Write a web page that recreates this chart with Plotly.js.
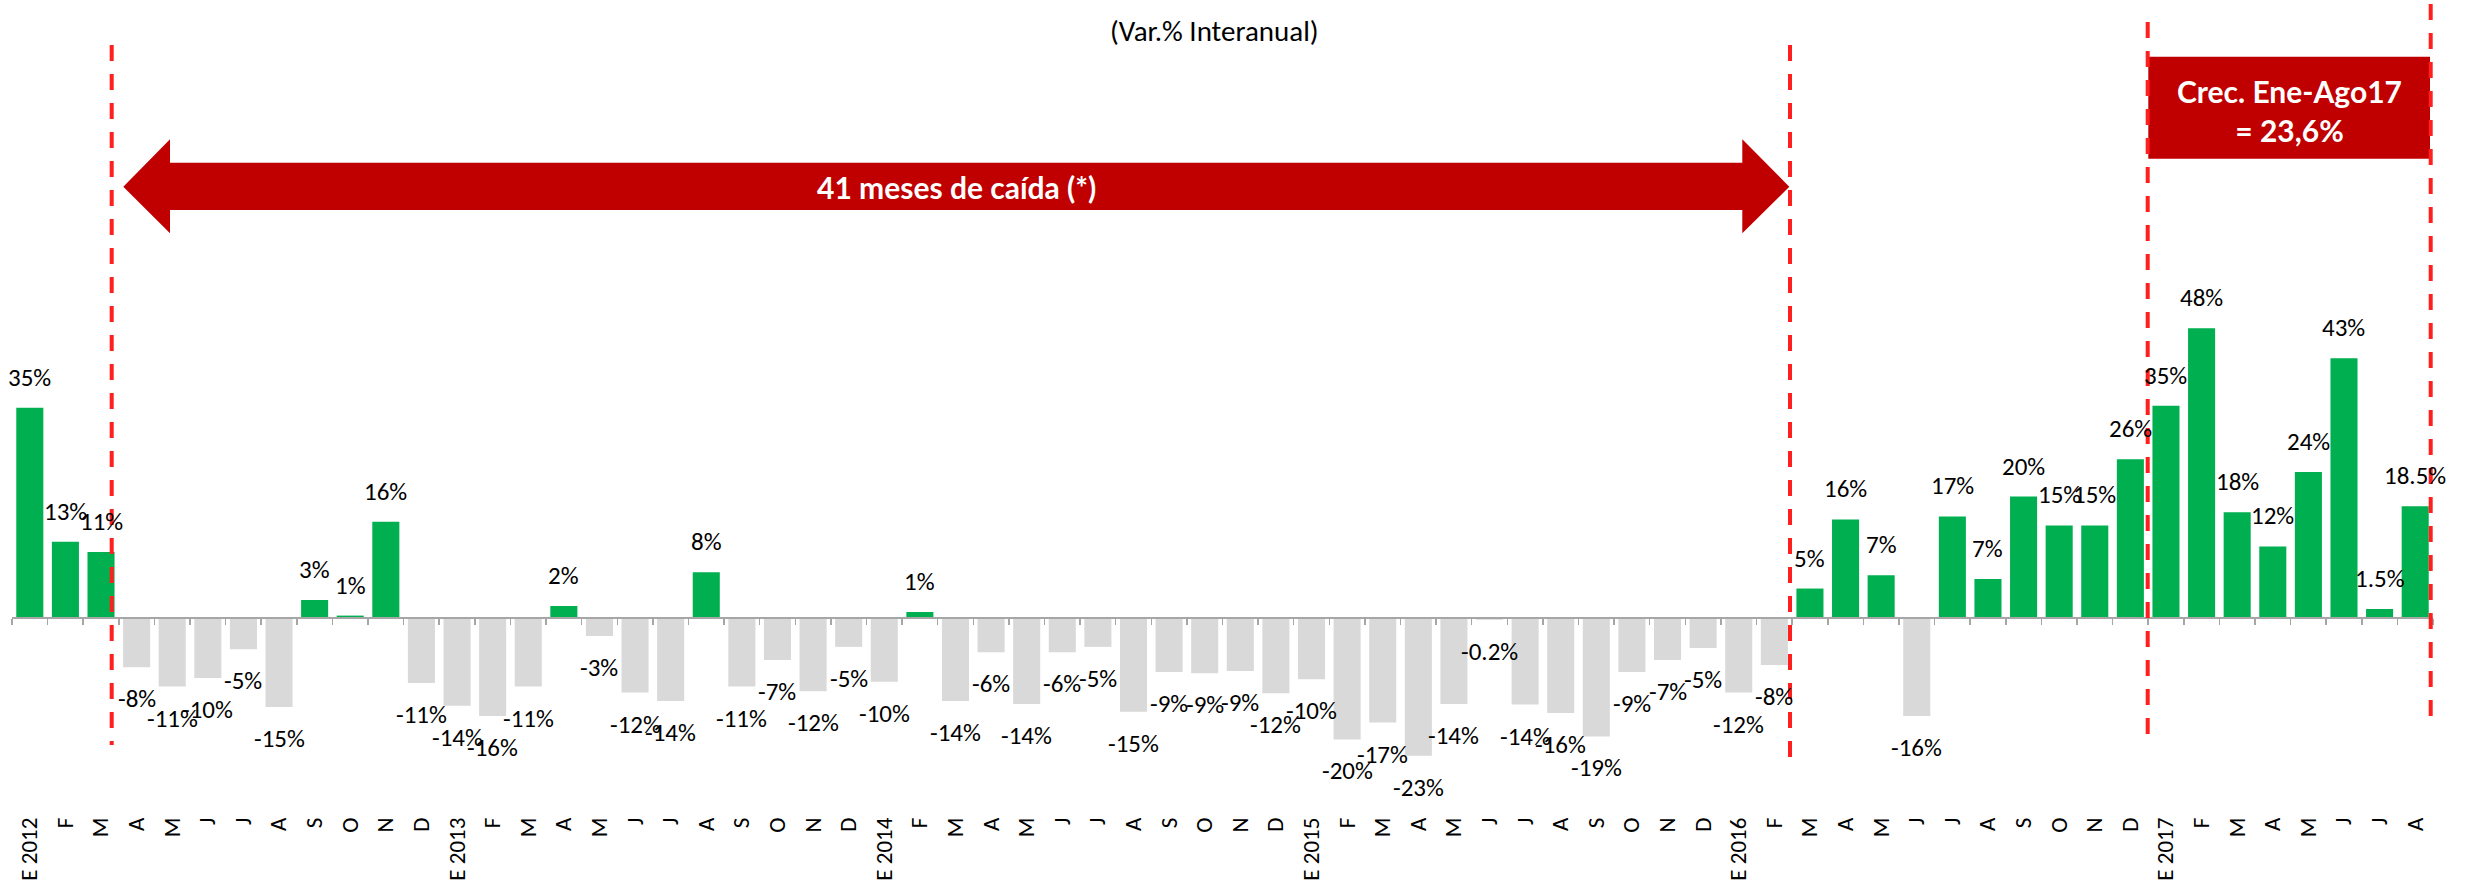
<!DOCTYPE html>
<html>
<head>
<meta charset="utf-8">
<script src="https://cdn.plot.ly/plotly-3.0.1.min.js"></script>
<style>
  html, body { margin: 0; padding: 0; background: #ffffff; }
  #chart { width: 2476px; height: 886px; }
</style>
</head>
<body>
<div id="chart"></div>
<script>
// ---- Data ----
const months = [
  'E 2012','F','M','A','M','J','J','A','S','O','N','D',
  'E 2013','F','M','A','M','J','J','A','S','O','N','D',
  'E 2014','F','M','A','M','J','J','A','S','O','N','D',
  'E 2015','F','M','A','M','J','J','A','S','O','N','D',
  'E 2016','F','M','A','M','J','J','A','S','O','N','D',
  'E 2017','F','M','A','M','J','J','A'
];
const values = [
  35, 12.7, 11, -8.2, -11.4, -10, -5.2, -14.8, 3, 0.4, 16, -10.8,
  -14.6, -16.3, -11.4, 2, -3, -12.4, -13.8, 7.6, -11.4, -7, -12.2, -4.8,
  -10.6, 1, -13.8, -5.7, -14.3, -5.7, -4.8, -15.6, -9, -9.2, -8.8, -12.5,
  -10.2, -20.2, -17.4, -22.9, -14.3, -0.3, -14.4, -15.8, -19.7, -9, -7, -5,
  -12.4, -7.8, 4.9, 16.4, 7.1, -16.3, 16.9, 6.5, 20.2, 15.4, 15.4, 26.4,
  35.3, 48.2, 17.6, 11.9, 24.3, 43.2, 1.5, 18.6
];
const labels = [
  '35%','13%','11%','-8%','-11%','-10%','-5%','-15%','3%','1%','16%','-11%',
  '-14%','-16%','-11%','2%','-3%','-12%','-14%','8%','-11%','-7%','-12%','-5%',
  '-10%','1%','-14%','-6%','-14%','-6%','-5%','-15%','-9%','-9%','-9%','-12%',
  '-10%','-20%','-17%','-23%','-14%','-0.2%','-14%','-16%','-19%','-9%','-7%','-5%',
  '-12%','-8%','5%','16%','7%','-16%','17%','7%','20%','15%','15%','26%',
  '35%','48%','18%','12%','24%','43%','1.5%','18.5%'
];
const subtitle = '(Var.% Interanual)';
const arrowText = '41 meses de caída (*)';
const boxText = 'Crec. Ene-Ago17<br>= 23,6%';

// ---- Geometry helpers (layout only) ----
const W = 2476, H = 886;
const M = { l: 12, r: 43, t: 0, b: 74 };
const plotW = W - M.l - M.r, plotH = H - M.t - M.b;
const xRange = [-0.5, months.length - 0.5];
const pxPerY = 6.01;
const yMax = (618 - M.t) / pxPerY;
const yMin = yMax - plotH / pxPerY;
const catW = plotW / (xRange[1] - xRange[0]);
const xd = px => xRange[0] + (px - M.l) / catW;
const yd = py => yMax - (py - M.t) / pxPerY;

const idx = months.map((_, i) => i);
const colors = values.map(v => v >= 0 ? '#00B050' : '#D9D9D9');

const FONT = 'Carlito, Calibri, Lato, sans-serif';
const BOLD = 'Lato, "Open Sans", sans-serif';

const traces = [
  {
    type: 'bar', x: idx, y: values,
    marker: { color: colors, line: { width: 0 } },
    hoverinfo: 'skip', showlegend: false
  },
  {
    type: 'scatter', x: [idx[0]], y: [0], xaxis: 'x2', yaxis: 'y',
    mode: 'markers', marker: { opacity: 0 }, hoverinfo: 'skip', showlegend: false
  }
];

// data labels
const annotations = values.map((v, i) => ({
  x: i, y: v, xref: 'x', yref: 'y',
  text: labels[i], showarrow: false,
  yanchor: v >= 0 ? 'bottom' : 'top',
  yshift: v >= 0 ? 13 : -14,
  font: { family: FONT, size: 25, color: '#000000' }
}));

annotations.push({
  xref: 'paper', yref: 'paper', x: (1214 - M.l) / plotW,
  y: (M.t + plotH - 31) / plotH, text: subtitle, showarrow: false,
  xanchor: 'center', yanchor: 'middle',
  font: { family: FONT, size: 29, color: '#000000' }
});
annotations.push({
  xref: 'x', yref: 'y', x: xd(956), y: yd(187), text: arrowText, showarrow: false,
  xanchor: 'center', yanchor: 'middle',
  font: { family: BOLD, size: 30, color: '#FFFFFF', weight: 'bold' }
});
annotations.push({
  xref: 'x', yref: 'y', x: xd(2289), y: yd(110), text: boxText, showarrow: false,
  xanchor: 'center', yanchor: 'middle',
  font: { family: BOLD, size: 30, color: '#FFFFFF', weight: 'bold' }
});

// double arrow path
const P = (px, py) => xd(px) + ',' + yd(py);
const arrowPath = 'M' + P(123.3, 186.7) +
  ' L' + P(170, 139.3) + ' L' + P(170, 162.7) + ' L' + P(1742.3, 162.7) +
  ' L' + P(1742.3, 139.3) + ' L' + P(1789.3, 186.7) + ' L' + P(1742.3, 233.3) +
  ' L' + P(1742.3, 210) + ' L' + P(170, 210) + ' L' + P(170, 233.3) + ' Z';

const dashLine = (px, pyTop, pyBot) => ({
  type: 'line', xref: 'x', yref: 'y',
  x0: xd(px), x1: xd(px), y0: yd(pyTop), y1: yd(pyBot),
  line: { color: '#FF1F1F', width: 4, dash: '16px,13px' }, layer: 'above'
});

const shapes = [
  { type: 'path', xref: 'x', yref: 'y', path: arrowPath,
    fillcolor: '#C00000', line: { width: 0 }, layer: 'above' },
  { type: 'rect', xref: 'x', yref: 'y', x0: xd(2148.3), x1: xd(2430), y0: yd(158.7), y1: yd(56.7),
    fillcolor: '#C00000', line: { width: 0 }, layer: 'above' },
  dashLine(111.7, 45, 745),
  dashLine(1790, 45, 760),
  dashLine(2147.7, 22, 735),
  dashLine(2430.7, 4, 718)
];

const boundaries = [];
for (let i = 0; i <= months.length; i++) boundaries.push(i - 0.5);

const layout = {
  width: W, height: H,
  margin: M,
  paper_bgcolor: '#ffffff', plot_bgcolor: '#ffffff',
  showlegend: false,
  bargap: 0.24,
  xaxis: {
    range: xRange, fixedrange: true,
    tickmode: 'array', tickvals: idx, ticktext: months,
    tickangle: -90, ticks: '', showline: false, showgrid: false, zeroline: false,
    tickfont: { family: FONT, size: 23, color: '#000000' },
    anchor: 'y'
  },
  xaxis2: {
    overlaying: 'x', anchor: 'free', position: (0 - yMin) / (yMax - yMin),
    range: xRange, fixedrange: true,
    tickmode: 'array', tickvals: boundaries, showticklabels: false,
    ticks: 'outside', ticklen: 6, tickwidth: 1.5, tickcolor: '#A6A6A6',
    showline: true, linecolor: '#A6A6A6', linewidth: 2,
    showgrid: false, zeroline: false
  },
  yaxis: {
    range: [yMin, yMax], fixedrange: true,
    showticklabels: false, showgrid: false, zeroline: false, showline: false, ticks: ''
  },
  shapes: shapes,
  annotations: annotations
};

Plotly.newPlot('chart', traces, layout, { displayModeBar: false, staticPlot: true });
</script>
</body>
</html>
